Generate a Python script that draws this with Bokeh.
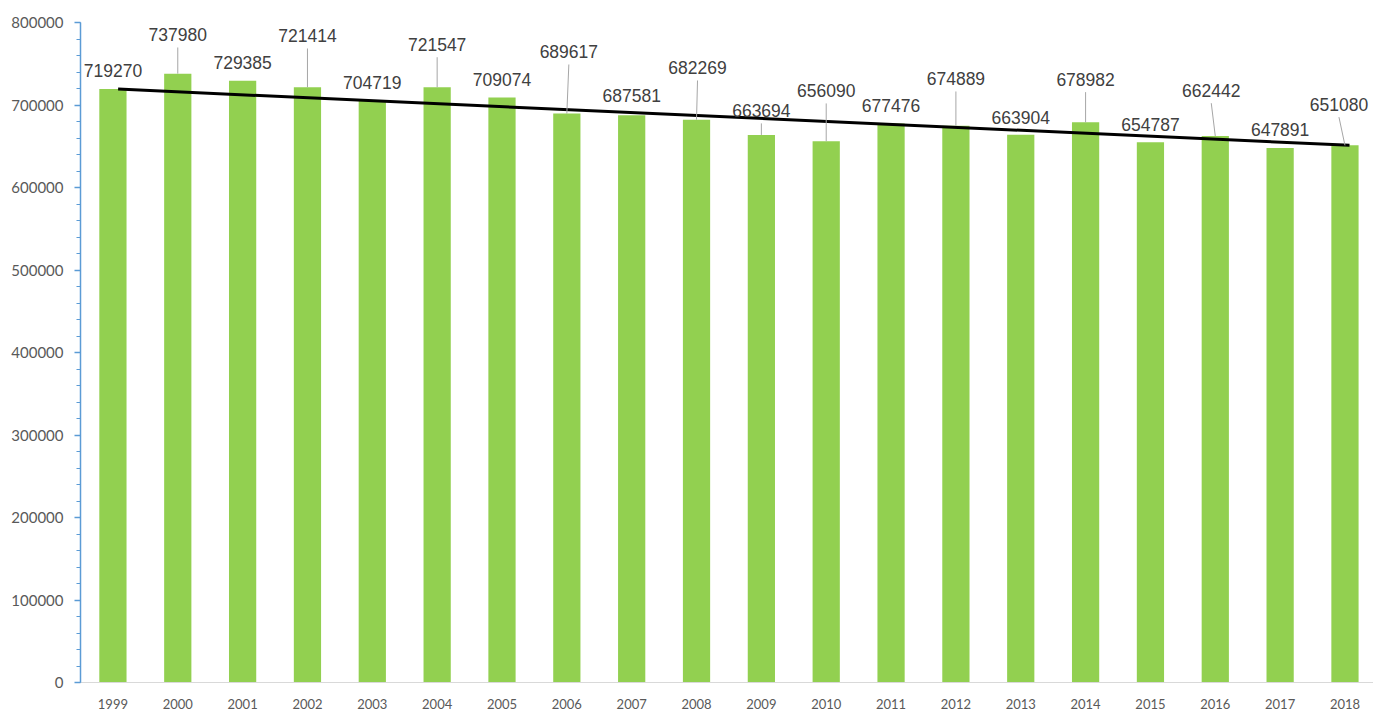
from bokeh.plotting import figure
from bokeh.models import Range1d, FixedTicker, ColumnDataSource, NumeralTickFormatter
from bokeh.core.properties import value
from bokeh.embed import file_html
from bokeh.resources import INLINE

# Yearly totals
years = ["1999", "2000", "2001", "2002", "2003", "2004", "2005", "2006", "2007", "2008",
         "2009", "2010", "2011", "2012", "2013", "2014", "2015", "2016", "2017", "2018"]
counts = [719270, 737980, 729385, 721414, 704719, 721547, 709074, 689617, 687581, 682269,
          663694, 656090, 677476, 674889, 663904, 678982, 654787, 662442, 647891, 651080]

# Vertical centre of each value label (axis units) and whether it needs a leader line
label_mid = [741500, 785100, 751500, 783900, 727300, 773300, 731000, 764500, 711200, 745100,
             693100, 717300, 699500, 731800, 685400, 731000, 676500, 717600, 669700, 700700]
has_leader = [False, True, False, True, False, True, False, True, False, True,
              True, True, False, True, False, True, False, True, False, True]
label_shift = [0, 0, 0, 0, 0, 0, 0, 2, 0, 1, 0, 0, 0, 0, 0, 0, 0, -4, 0, -6]  # pixels

W, H = 1373, 711
SLOT_PX = 64.84  # width of one category slot

xs = list(range(len(years)))
label_x = [i + s / SLOT_PX for i, s in zip(xs, label_shift)]

p = figure(width=W, height=H, output_backend="svg", toolbar_location=None,
           x_range=Range1d(-0.5, 19.44), y_range=Range1d(0, 800000),
           min_border_left=80, min_border_right=0, min_border_top=22, min_border_bottom=29)
p.outline_line_color = None
p.xgrid.grid_line_color = None
p.ygrid.grid_line_color = None
p.background_fill_color = "white"
p.border_fill_color = "white"

# y axis
ya = p.yaxis[0]
ya.ticker = FixedTicker(ticks=list(range(0, 800001, 100000)),
                        minor_ticks=list(range(0, 800001, 20000)))
ya.formatter = NumeralTickFormatter(format="0")
ya.axis_line_color = "#5B9BD5"
ya.axis_line_width = 1.5
ya.major_tick_line_color = "#5B9BD5"
ya.minor_tick_line_color = "#5B9BD5"
ya.major_tick_line_width = 1.5
ya.minor_tick_line_width = 1
ya.major_tick_in = 0
ya.major_tick_out = 6
ya.minor_tick_in = 0
ya.minor_tick_out = 4
ya.major_label_text_font = "Lato"
ya.major_label_text_font_size = "15px"
ya.major_label_text_color = "#595959"
ya.major_label_standoff = 11

# x axis
xa = p.xaxis[0]
xa.ticker = FixedTicker(ticks=xs, minor_ticks=[])
xa.major_label_overrides = {i: y for i, y in zip(xs, years)}
xa.axis_line_color = "#D9D9D9"
xa.axis_line_width = 1
xa.major_tick_line_color = None
xa.major_tick_in = 0
xa.major_tick_out = 0
xa.minor_tick_line_color = None
xa.major_label_text_font = "Lato"
xa.major_label_text_font_size = "13px"
xa.major_label_text_color = "#595959"
xa.major_label_standoff = 16

src = ColumnDataSource(dict(x=xs, count=counts, year=years))
p.vbar(x="x", top="count", width=0.42, source=src, fill_color="#92D050", line_color=None)

# trend line from first to last year
p.line(x=[xs[0] + 0.08, xs[-1] + 0.07], y=[counts[0], counts[-1]],
       line_color="black", line_width=3)

# leader lines for displaced labels
lead_idx = [i for i, f in enumerate(has_leader) if f]
gap = 15400  # half label height plus spacing, axis units
p.segment(x0=[xs[i] for i in lead_idx], y0=[counts[i] for i in lead_idx],
          x1=[label_x[i] for i in lead_idx], y1=[label_mid[i] - gap for i in lead_idx],
          line_color="#A6A6A6", line_width=1)

lbl = ColumnDataSource(dict(x=label_x, y=label_mid, text=[str(c) for c in counts]))
p.text(x="x", y="y", text="text", source=lbl, text_align="center",
       text_baseline="middle", text_font=value("Liberation Sans"),
       text_font_size="17.5px", text_color="#404040")

open("out.html", "w").write(file_html(p, INLINE))
